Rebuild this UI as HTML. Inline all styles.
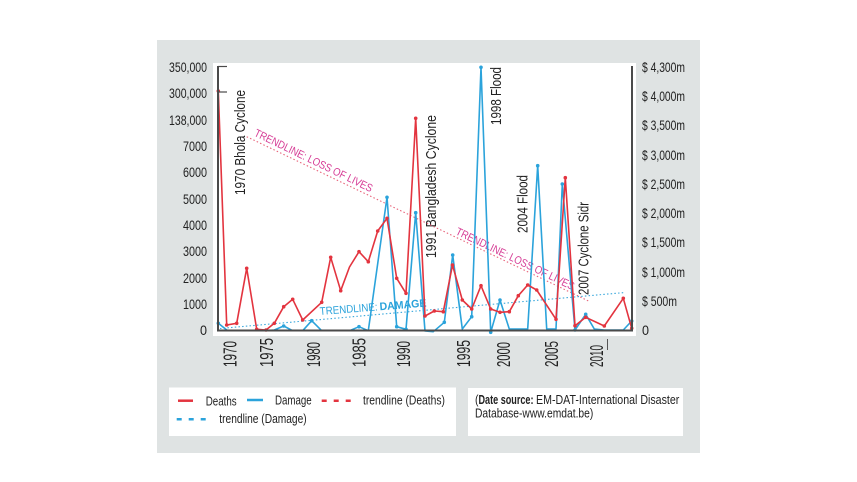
<!DOCTYPE html>
<html><head><meta charset="utf-8"><style>
html,body{margin:0;padding:0;background:#fff;}
svg{display:block;}
text{font-family:"Liberation Sans",sans-serif;fill:#222;}
</style></head><body>
<svg width="857" height="482" viewBox="0 0 857 482" xmlns="http://www.w3.org/2000/svg">
<rect x="157" y="40" width="543" height="413" fill="#dfe3e3"/>
<rect x="213" y="63" width="423" height="273" fill="#fff"/>

<!-- left labels -->
<g font-size="14">
<text x="169" y="72" textLength="38" lengthAdjust="spacingAndGlyphs">350,000</text>
<text x="169" y="98" textLength="38" lengthAdjust="spacingAndGlyphs">300,000</text>
<text x="169" y="125" textLength="38" lengthAdjust="spacingAndGlyphs">138,000</text>
<text x="183" y="151" textLength="24" lengthAdjust="spacingAndGlyphs">7000</text>
<text x="183" y="177" textLength="24" lengthAdjust="spacingAndGlyphs">6000</text>
<text x="183" y="204" textLength="24" lengthAdjust="spacingAndGlyphs">5000</text>
<text x="183" y="230" textLength="24" lengthAdjust="spacingAndGlyphs">4000</text>
<text x="183" y="256" textLength="24" lengthAdjust="spacingAndGlyphs">3000</text>
<text x="183" y="283" textLength="24" lengthAdjust="spacingAndGlyphs">2000</text>
<text x="183" y="309" textLength="24" lengthAdjust="spacingAndGlyphs">1000</text>
<text x="200" y="335" textLength="7" lengthAdjust="spacingAndGlyphs">0</text>
</g>

<!-- right labels -->
<g font-size="14">
<text x="642" y="72" textLength="43" lengthAdjust="spacingAndGlyphs">$ 4,300m</text>
<text x="642" y="101" textLength="43" lengthAdjust="spacingAndGlyphs">$ 4,000m</text>
<text x="642" y="130" textLength="43" lengthAdjust="spacingAndGlyphs">$ 3,500m</text>
<text x="642" y="160" textLength="43" lengthAdjust="spacingAndGlyphs">$ 3,000m</text>
<text x="642" y="189" textLength="43" lengthAdjust="spacingAndGlyphs">$ 2,500m</text>
<text x="642" y="218" textLength="43" lengthAdjust="spacingAndGlyphs">$ 2,000m</text>
<text x="642" y="247" textLength="43" lengthAdjust="spacingAndGlyphs">$ 1,500m</text>
<text x="642" y="277" textLength="43" lengthAdjust="spacingAndGlyphs">$ 1,000m</text>
<text x="642" y="306" textLength="35" lengthAdjust="spacingAndGlyphs">$ 500m</text>
<text x="642" y="335" textLength="7" lengthAdjust="spacingAndGlyphs">0</text>
</g>

<!-- year labels -->
<g font-size="18">
<text transform="translate(236.5,367) rotate(-90)" textLength="26" lengthAdjust="spacingAndGlyphs">1970</text>
<text transform="translate(273,367) rotate(-90)" textLength="29" lengthAdjust="spacingAndGlyphs">1975</text>
<text transform="translate(320,367) rotate(-90)" textLength="25" lengthAdjust="spacingAndGlyphs">1980</text>
<text transform="translate(365.5,367) rotate(-90)" textLength="29" lengthAdjust="spacingAndGlyphs">1985</text>
<text transform="translate(410,367) rotate(-90)" textLength="26" lengthAdjust="spacingAndGlyphs">1990</text>
<text transform="translate(470,367) rotate(-90)" textLength="27" lengthAdjust="spacingAndGlyphs">1995</text>
<text transform="translate(510,367) rotate(-90)" textLength="25" lengthAdjust="spacingAndGlyphs">2000</text>
<text transform="translate(558,367) rotate(-90)" textLength="26" lengthAdjust="spacingAndGlyphs">2005</text>
<text transform="translate(603,367) rotate(-90)" textLength="22" lengthAdjust="spacingAndGlyphs">2010</text>
</g>
<line x1="607.5" y1="339" x2="607.5" y2="350" stroke="#555" stroke-width="1"/>

<!-- annotations -->
<g font-size="15">
<text transform="translate(245,195) rotate(-90)" textLength="105" lengthAdjust="spacingAndGlyphs">1970 Bhola Cyclone</text>
<text transform="translate(436,258) rotate(-90)" textLength="143" lengthAdjust="spacingAndGlyphs">1991 Bangladesh Cyclone</text>
<text transform="translate(501,125) rotate(-90)" textLength="58" lengthAdjust="spacingAndGlyphs">1998 Flood</text>
<text transform="translate(527.5,233) rotate(-90)" textLength="58" lengthAdjust="spacingAndGlyphs">2004 Flood</text>
<text transform="translate(588.5,295) rotate(-90)" textLength="93" lengthAdjust="spacingAndGlyphs">2007 Cyclone Sidr</text>
</g>

<!-- trendlines -->
<line x1="246.7" y1="136.7" x2="590" y2="301.7" stroke="#e8637a" stroke-width="1.1" stroke-dasharray="1.5 2.2"/>
<line x1="220" y1="328.5" x2="625" y2="292.5" stroke="#3aa8dc" stroke-width="1.1" stroke-dasharray="1.5 2.2"/>

<g font-size="11">
<text transform="translate(253.5,135.5) rotate(25.9)" textLength="130" lengthAdjust="spacingAndGlyphs" style="fill:#d63c95">TRENDLINE: LOSS OF LIVES</text>
<text transform="translate(455,234) rotate(25.6)" textLength="130" lengthAdjust="spacingAndGlyphs" style="fill:#d63c95">TRENDLINE: LOSS OF LIVES</text>
</g>
<g transform="translate(320,315) rotate(-4.5)" font-size="11">
<text x="0" y="0" textLength="58" lengthAdjust="spacingAndGlyphs" style="fill:#2ba3db">TRENDLINE:</text>
<text x="60" y="0" textLength="47" lengthAdjust="spacingAndGlyphs" font-weight="bold" style="fill:#2ba3db">DAMAGE</text>
</g>

<!-- Damage series -->
<polyline fill="none" stroke="#2ba3db" stroke-width="1.6" stroke-linejoin="round" points="218.3,323.3 227.7,330.7 236.7,330.7 246.7,330.7 256.7,330.7 266,330.7 274.3,330 283.7,326 292.7,330.7 302.7,330.7 311.7,320.7 321.7,330.7 330.7,330.7 340.7,330.7 349.5,330.7 359,326.7 368.3,330.7 387,197.3 396.7,326.7 406,329.3 415.7,212.7 425,331 433.3,331.7 444.3,322.3 452.7,255 462.3,329 471.7,316.7 481,67.3 490.7,332.3 500,300 509.3,329 518.3,329 527.7,329 537.7,165.7 546.7,329 556,329 562.3,184 575,330 585.7,314.3 594.3,329 604.3,330 623.3,330 631.7,321"/>
<g fill="#2ba3db">
<circle cx="218.3" cy="323.3" r="1.8"/><circle cx="283.7" cy="326" r="1.8"/><circle cx="311.7" cy="320.7" r="1.8"/><circle cx="359" cy="326.7" r="1.8"/><circle cx="387" cy="197.3" r="1.8"/><circle cx="396.7" cy="326.7" r="1.8"/><circle cx="406" cy="329.3" r="1.8"/><circle cx="415.7" cy="212.7" r="1.8"/><circle cx="444.3" cy="322.3" r="1.8"/><circle cx="452.7" cy="255" r="1.8"/><circle cx="471.7" cy="316.7" r="1.8"/><circle cx="481" cy="67.3" r="1.8"/><circle cx="490.7" cy="332.3" r="1.8"/><circle cx="500" cy="300" r="1.8"/><circle cx="537.7" cy="165.7" r="1.8"/><circle cx="562.3" cy="184" r="1.8"/><circle cx="575" cy="330" r="1.8"/><circle cx="585.7" cy="314.3" r="1.8"/><circle cx="631.7" cy="321" r="1.8"/>
</g>

<!-- Deaths series -->
<polyline fill="none" stroke="#e3343f" stroke-width="1.6" stroke-linejoin="round" points="218.3,91 226.7,325 236.7,323.3 246.7,268.3 256.7,329.3 266,330 274.3,323.3 283.7,306.7 292.7,299.3 302.7,320 321.7,302.3 330.7,257.3 340.7,290.7 349.5,267 359,251.7 368.3,261.7 377.7,231 387,218.3 396.7,278.3 406,293.3 415.7,118.3 425,316 434.3,311 443.3,311.7 452.5,265 462.3,300 471.7,309 481,285.7 490.7,309 500,312.3 509.3,311.7 518.3,295.7 527.7,285 536.7,290 556,319.3 565.3,177.7 575,325.7 585.7,317.3 604.3,326 623.3,298.3 631.7,328.3"/>
<g fill="#e3343f">
<circle cx="218.3" cy="91" r="1.8"/><circle cx="226.7" cy="325" r="1.8"/><circle cx="236.7" cy="323.3" r="1.8"/><circle cx="246.7" cy="268.3" r="1.8"/><circle cx="256.7" cy="329.3" r="1.8"/><circle cx="266" cy="330" r="1.8"/><circle cx="274.3" cy="323.3" r="1.8"/><circle cx="283.7" cy="306.7" r="1.8"/><circle cx="292.7" cy="299.3" r="1.8"/><circle cx="302.7" cy="320" r="1.8"/><circle cx="321.7" cy="302.3" r="1.8"/><circle cx="330.7" cy="257.3" r="1.8"/><circle cx="340.7" cy="290.7" r="1.8"/><circle cx="359" cy="251.7" r="1.8"/><circle cx="368.3" cy="261.7" r="1.8"/><circle cx="377.7" cy="231" r="1.8"/><circle cx="387" cy="218.3" r="1.8"/><circle cx="396.7" cy="278.3" r="1.8"/><circle cx="406" cy="293.3" r="1.8"/><circle cx="415.7" cy="118.3" r="1.8"/><circle cx="425" cy="316" r="1.8"/><circle cx="434.3" cy="311" r="1.8"/><circle cx="443.3" cy="311.7" r="1.8"/><circle cx="452.5" cy="265" r="1.8"/><circle cx="462.3" cy="300" r="1.8"/><circle cx="471.7" cy="309" r="1.8"/><circle cx="481" cy="285.7" r="1.8"/><circle cx="490.7" cy="309" r="1.8"/><circle cx="500" cy="312.3" r="1.8"/><circle cx="509.3" cy="311.7" r="1.8"/><circle cx="518.3" cy="295.7" r="1.8"/><circle cx="527.7" cy="285" r="1.8"/><circle cx="536.7" cy="290" r="1.8"/><circle cx="556" cy="319.3" r="1.8"/><circle cx="565.3" cy="177.7" r="1.8"/><circle cx="575" cy="325.7" r="1.8"/><circle cx="585.7" cy="317.3" r="1.8"/><circle cx="604.3" cy="326" r="1.8"/><circle cx="623.3" cy="298.3" r="1.8"/><circle cx="631.7" cy="328.3" r="1.8"/>
</g>

<!-- axes -->
<line x1="218" y1="66" x2="218" y2="331" stroke="#4a4a4a" stroke-width="2"/>
<line x1="217" y1="330.5" x2="633" y2="330.5" stroke="#4a4a4a" stroke-width="2"/>
<line x1="632" y1="66" x2="632" y2="331" stroke="#4a4a4a" stroke-width="2"/>
<line x1="218" y1="66.5" x2="227" y2="66.5" stroke="#4a4a4a" stroke-width="1.2"/>
<line x1="218" y1="92" x2="227" y2="92" stroke="#4a4a4a" stroke-width="1.2"/>

<!-- legend -->
<rect x="169" y="387.5" width="287" height="48.5" fill="#fff"/>
<rect x="468" y="388" width="215" height="48" fill="#fff"/>
<line x1="178" y1="400.7" x2="193" y2="400.7" stroke="#e3343f" stroke-width="2.5"/>
<line x1="247" y1="400" x2="263" y2="400" stroke="#2ba3db" stroke-width="2.5"/>
<line x1="321.7" y1="400.7" x2="352" y2="400.7" stroke="#e3343f" stroke-width="2.5" stroke-dasharray="5 7"/>
<line x1="176.7" y1="419.3" x2="207" y2="419.3" stroke="#2ba3db" stroke-width="2.5" stroke-dasharray="5 7"/>
<g font-size="12.5">
<text x="205.7" y="405.5" textLength="31" lengthAdjust="spacingAndGlyphs">Deaths</text>
<text x="275" y="404.5" textLength="36.7" lengthAdjust="spacingAndGlyphs">Damage</text>
<text x="363" y="404.5" textLength="82" lengthAdjust="spacingAndGlyphs">trendline (Deaths)</text>
<text x="219.3" y="423" textLength="87.4" lengthAdjust="spacingAndGlyphs">trendline (Damage)</text>
<text x="475" y="404" textLength="3.5" lengthAdjust="spacingAndGlyphs">(</text>
<text x="478.5" y="404" textLength="55" lengthAdjust="spacingAndGlyphs" font-weight="bold">Date source:</text>
<text x="536" y="404" textLength="143.3" lengthAdjust="spacingAndGlyphs">EM-DAT-International Disaster</text>
<text x="475" y="417.5" textLength="118.3" lengthAdjust="spacingAndGlyphs">Database-www.emdat.be)</text>
</g>
</svg>
</body></html>
